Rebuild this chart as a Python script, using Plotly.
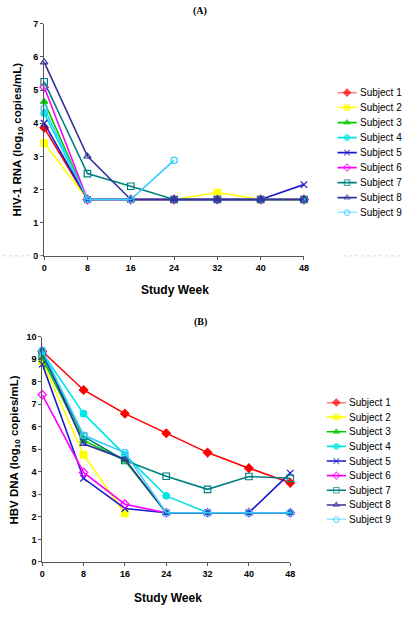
import plotly.graph_objects as go

weeks = [0, 8, 16, 24, 32, 40, 48]
subjects = ["Subject 1", "Subject 2", "Subject 3", "Subject 4", "Subject 5",
            "Subject 6", "Subject 7", "Subject 8", "Subject 9"]

# Panel A: HIV-1 RNA (log10 copies/mL)
hiv_s1 = [3.86, 1.70, 1.70, 1.70, 1.70, 1.70, 1.70]
hiv_s2 = [3.40, 1.70, 1.70, 1.70, 1.91, 1.70, 1.70]
hiv_s3 = [4.65, 1.70, 1.70, 1.70, 1.70, 1.70, 1.70]
hiv_s4 = [4.30, 1.70, 1.70, 1.70, 1.70, 1.70, 1.70]
hiv_s5 = [4.00, 1.70, 1.70, 1.70, 1.70, 1.70, 2.15]
hiv_s6 = [5.09, 1.70, 1.70, 1.70, 1.70, 1.70, 1.70]
hiv_s7 = [5.25, 2.48, 2.10, 1.70, 1.70, 1.70, 1.70]
hiv_s8 = [5.84, 3.00, 1.70, 1.70, 1.70, 1.70, 1.70]
hiv_s9 = [4.45, 1.70, 1.70, 2.88, None, None, None]

# Panel B: HBV DNA (log10 copies/mL)
hbv_s1 = [9.35, 7.63, 6.58, 5.71, 4.85, 4.16, 3.51]
hbv_s2 = [8.90, 4.75, 2.15, None, None, None, None]
hbv_s3 = [9.04, 5.39, 4.50, 2.18, 2.18, 2.18, 2.18]
hbv_s4 = [9.30, 6.58, 4.75, 2.93, 2.18, 2.18, 2.18]
hbv_s5 = [8.78, 3.71, 2.37, 2.18, 2.18, 2.18, 3.94]
hbv_s6 = [7.42, 3.97, 2.56, 2.18, 2.18, 2.18, 2.18]
hbv_s7 = [9.20, 5.57, 4.50, 3.80, 3.22, 3.79, 3.71]
hbv_s8 = [9.36, 5.24, 4.56, 2.18, 2.18, 2.18, 2.18]
hbv_s9 = [9.39, 5.62, 4.85, 2.18, 2.18, 2.18, 2.18]

hiv = [hiv_s1, hiv_s2, hiv_s3, hiv_s4, hiv_s5, hiv_s6, hiv_s7, hiv_s8, hiv_s9]
hbv = [hbv_s1, hbv_s2, hbv_s3, hbv_s4, hbv_s5, hbv_s6, hbv_s7, hbv_s8, hbv_s9]

colors = ["#FF0000", "#FFFF00", "#00CC00", "#00E5E5", "#1A1ACC",
          "#FF00FF", "#008080", "#333399", "#33CCFF"]
symbols = ["diamond", "square", "triangle-up", "circle", "x-thin-open",
           "diamond-open", "square-open", "triangle-up-open", "circle-open"]

W, H = 406, 621
def px_x(p):
    return p / W
def px_y(p):
    return 1 - p / H

FONT = "Liberation Sans, Arial, sans-serif"

fig = go.Figure()
ann = []

def add_series(data, xa, ya):
    for i, vals in enumerate(data):
        fig.add_trace(go.Scatter(
            x=weeks, y=vals, mode="lines+markers", xaxis=xa, yaxis=ya,
            line=dict(color=colors[i], width=1.6),
            marker=dict(symbol=symbols[i], size=6.5, color=colors[i],
                        line=dict(color=colors[i], width=1.2)),
            cliponaxis=False, showlegend=False, connectgaps=False))

def add_legend(xa, ya):
    for i, name in enumerate(subjects):
        fig.add_trace(go.Scatter(
            x=[0, 0.5, 1], y=[i, i, i], mode="lines+markers", xaxis=xa, yaxis=ya,
            line=dict(color=colors[i], width=1.6),
            marker=dict(symbol=symbols[i], size=[0, 5.5, 0], color=colors[i],
                        line=dict(color=colors[i], width=1.1)),
            cliponaxis=False, showlegend=False, hoverinfo="skip"))
        ann.append(dict(text=name, x=1, y=i, xref=xa, yref=ya, xanchor="left",
                        yanchor="middle", xshift=1, showarrow=False,
                        font=dict(family=FONT, size=10, color="#000")))

add_series(hiv, "x", "y")
add_series(hbv, "x2", "y2")
add_legend("x3", "y3")
add_legend("x4", "y4")

axis_common = dict(showline=True, linecolor="#555", linewidth=1, ticks="outside",
                   ticklen=3, tickcolor="#555", showgrid=False, zeroline=False,
                   tickfont=dict(family=FONT, size=9, color="#000", weight="bold"))

fig.update_layout(
    width=W, height=H, margin=dict(l=0, r=0, t=0, b=0),
    paper_bgcolor="white", plot_bgcolor="white",
    xaxis=dict(domain=[px_x(42), px_x(307)], range=[0, 48], tickvals=weeks,
               anchor="y", **axis_common),
    yaxis=dict(domain=[px_y(255), px_y(19)], range=[0, 7], dtick=1,
               anchor="x", **axis_common),
    xaxis2=dict(domain=[px_x(40), px_x(293)], range=[0, 48], tickvals=weeks,
                anchor="y2", **axis_common),
    yaxis2=dict(domain=[px_y(566), px_y(337)], range=[0, 10], dtick=1,
                anchor="x2", **axis_common),
    xaxis3=dict(domain=[px_x(341), px_x(361)], range=[0, 1], visible=False, anchor="y3"),
    yaxis3=dict(domain=[px_y(211), px_y(89)], range=[8, 0], visible=False, anchor="x3"),
    xaxis4=dict(domain=[px_x(330), px_x(350)], range=[0, 1], visible=False, anchor="y4"),
    yaxis4=dict(domain=[px_y(523), px_y(404)], range=[8, 0], visible=False, anchor="x4"),
)

def note(text, x, y, size, family=FONT, angle=0):
    return dict(text=text, x=px_x(x), y=px_y(y), xref="paper", yref="paper",
                xanchor="center", yanchor="middle", textangle=angle, showarrow=False,
                font=dict(family=family, size=size, color="#000"))

SERIF = "Liberation Serif, Times New Roman, serif"
ann += [
    note("<b>(A)</b>", 201, 6, 10, SERIF),
    note("<b>(B)</b>", 201, 322, 10, SERIF),
    note("<b>Study Week</b>", 175, 290, 12),
    note("<b>Study Week</b>", 168, 603, 12),
    note("<b>HIV-1 RNA (log<sub>10</sub> copies/mL)</b>", 15, 137, 11.5, angle=-90),
    note("<b>HBV DNA (log<sub>10</sub> copies/mL)</b>", 12, 452, 11.5, angle=-90),
]
fig.update_layout(annotations=ann)

# faint chart-border remnants
shapes = [
    dict(type="line", xref="paper", yref="paper", x0=0, x1=px_x(40), y0=px_y(255), y1=px_y(255),
         line=dict(color="#d8d8d8", width=1, dash="dot")),
    dict(type="line", xref="paper", yref="paper", x0=px_x(347), x1=1, y0=px_y(255), y1=px_y(255),
         line=dict(color="#d8d8d8", width=1, dash="dot")),
]
fig.update_layout(shapes=shapes)

fig.write_html("out.html", config={"displayModeBar": False},
               post_script="document.body.style.margin='0';")
